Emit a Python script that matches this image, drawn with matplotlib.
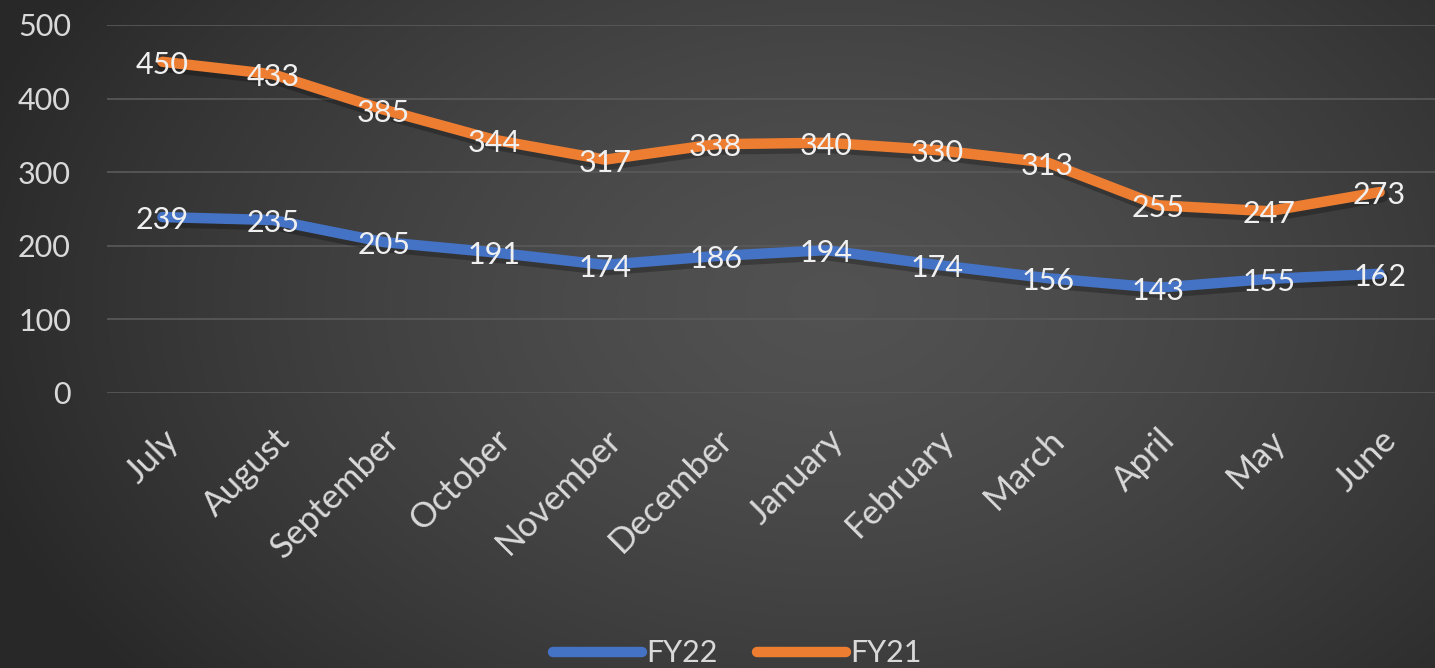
import numpy as np
import matplotlib.pyplot as plt
import matplotlib.patheffects as pe

months = ["July", "August", "September", "October", "November", "December",
          "January", "February", "March", "April", "May", "June"]
fy22 = [239, 235, 205, 191, 174, 186, 194, 174, 156, 143, 155, 162]
fy21 = [450, 433, 385, 344, 317, 338, 340, 330, 313, 255, 247, 273]
yticks = [0, 100, 200, 300, 400, 500]

plt.rcParams['font.family'] = ['Lato', 'DejaVu Sans']

fig = plt.figure(figsize=(14.35, 6.68), dpi=100)

# radial gradient backdrop
bg = fig.add_axes([0, 0, 1, 1], zorder=-10)
h, w = 668, 1435
yy, xx = np.mgrid[0:h, 0:w]
r = np.sqrt(((xx - w * 0.58) / (w * 0.62)) ** 2 + ((yy - h * 0.45) / (h * 0.9)) ** 2)
r = np.clip(r, 0, 1)
val = 0.32 - 0.16 * r ** 1.4
bg.imshow(np.dstack([val, val, val]), aspect='auto', extent=[0, 1, 0, 1])
bg.axis('off')

ax = fig.add_axes([0.0746, 0.4117, 0.9254, 0.5509])
ax.set_facecolor('none')
x = np.arange(len(months))
ax.set_xlim(-0.5, len(months) - 0.5)
ax.set_ylim(0, 500)

for v in yticks:
    ax.axhline(v, color='#5a5a5a', lw=1.2, zorder=1)

shadow = [pe.SimpleLineShadow(offset=(1.5, -2.5), shadow_color='black', alpha=0.25, linewidth=10),
          pe.Normal()]
l22, = ax.plot(x, fy22, color='#4472c4', lw=7.5, solid_capstyle='round',
               solid_joinstyle='round', zorder=3, path_effects=shadow, label='FY22')
l21, = ax.plot(x, fy21, color='#ed7d31', lw=7.5, solid_capstyle='round',
               solid_joinstyle='round', zorder=3, path_effects=shadow, label='FY21')

for xi, v in zip(x, fy22):
    ax.text(xi, v - 4, str(v), color='#f0f0f0', fontsize=22, ha='center', va='center', zorder=5)
for xi, v in zip(x, fy21):
    ax.text(xi, v - 4, str(v), color='#f0f0f0', fontsize=22, ha='center', va='center', zorder=5)

ax.set_yticks(yticks)
ax.set_yticklabels([str(v) for v in yticks], color='#d9d9d9', fontsize=22)
ax.set_xticks(x)
ax.set_xticklabels(months, rotation=45, ha='right', rotation_mode='anchor',
                   color='#d9d9d9', fontsize=25)
ax.tick_params(axis='both', length=0)
ax.tick_params(axis='y', pad=26)
ax.tick_params(axis='x', pad=22)
for s in ax.spines.values():
    s.set_visible(False)

leg = fig.legend(handles=[l22, l21], loc='lower center', bbox_to_anchor=(0.514, -0.04),
                 ncol=2, frameon=False, fontsize=22, handlelength=2.9,
                 handletextpad=0.15, columnspacing=1.3, labelcolor='#d9d9d9')
for hdl in leg.legend_handles:
    hdl.set_path_effects([])

fig.savefig('out.png', dpi=100)
